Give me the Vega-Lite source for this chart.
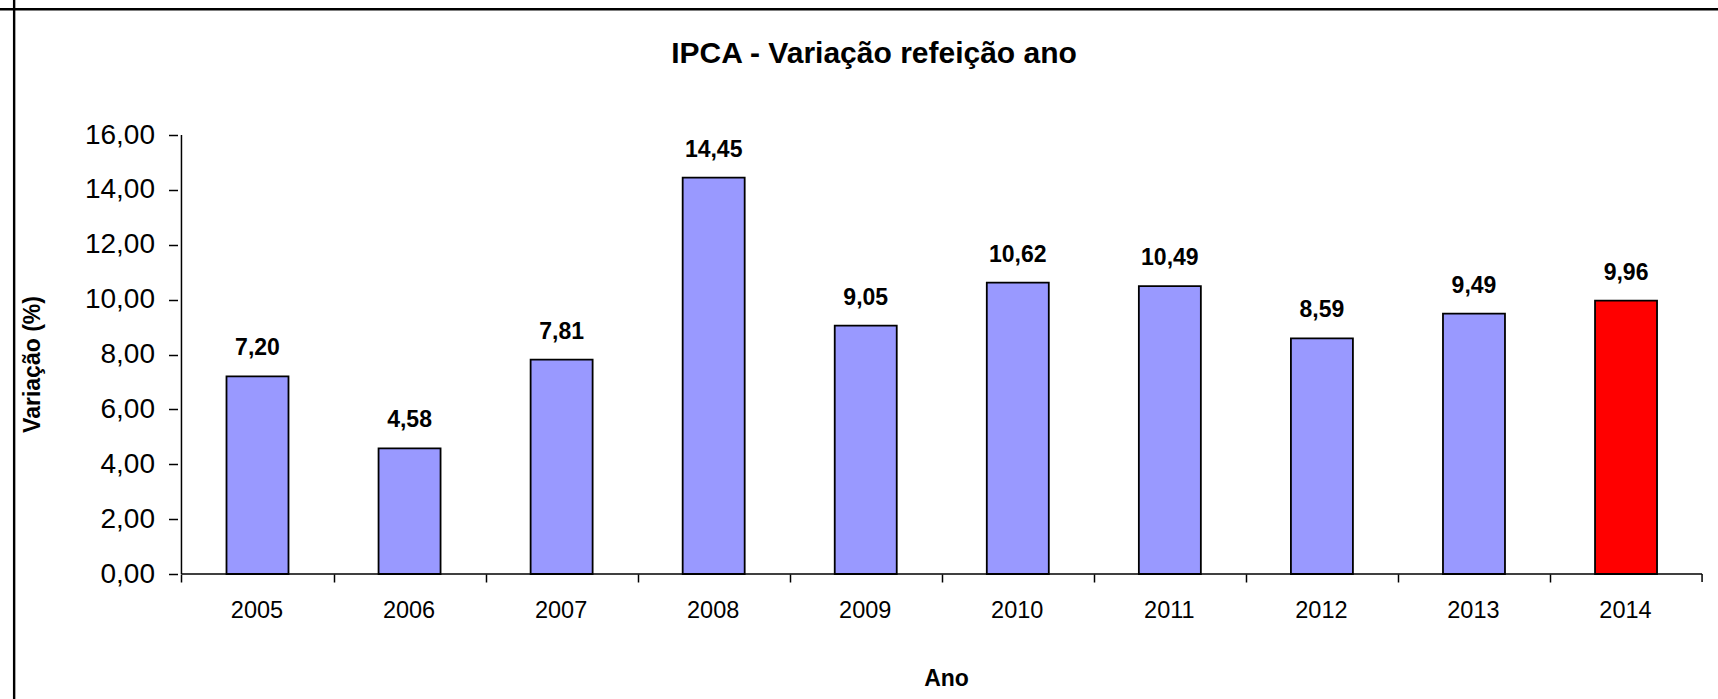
{
  "$schema": "https://vega.github.io/schema/vega-lite/v6.json",
  "width": 1718,
  "height": 699,
  "autosize": {"type": "none"},
  "padding": 0,
  "background": "white",
  "title": {
    "text": "IPCA - Variação refeição ano",
    "fontSize": 30,
    "fontWeight": "bold",
    "font": "Liberation Sans",
    "color": "black",
    "anchor": "middle",
    "frame": "group",
    "baseline": "alphabetic",
    "offset": -90,
    "dx": 15,
    "dy": 4
  },
  "data": {
    "values": [
      {"ano": 2005, "valor": 7.20},
      {"ano": 2006, "valor": 4.58},
      {"ano": 2007, "valor": 7.81},
      {"ano": 2008, "valor": 14.45},
      {"ano": 2009, "valor": 9.05},
      {"ano": 2010, "valor": 10.62},
      {"ano": 2011, "valor": 10.49},
      {"ano": 2012, "valor": 8.59},
      {"ano": 2013, "valor": 9.49},
      {"ano": 2014, "valor": 9.96}
    ]
  },
  "config": {
    "view": {"stroke": null},
    "font": "Liberation Sans",
    "locale": {"number": {"decimal": ",", "thousands": ".", "grouping": [3], "currency": ["R$", ""]}}
  },
  "layer": [
    {
      "mark": {"type": "bar", "size": 62, "stroke": "black", "strokeWidth": 1.8},
      "encoding": {
        "x": {
          "field": "ano",
          "type": "quantitative",
          "scale": {"domain": [2003.33949, 2014.57192], "nice": false, "zero": false},
          "axis": {
            "title": "Ano",
            "titleFontSize": 23,
            "titleFontWeight": "bold",
            "titleColor": "black",
            "titleX": 946,
            "titleY": 111,
            "titleBaseline": "alphabetic",
            "titleAnchor": null,
            "offset": -125,
            "domain": false,
            "grid": false,
            "values": [2004.5, 2005.5, 2006.5, 2007.5, 2008.5, 2009.5, 2010.5, 2011.5, 2012.5, 2013.5],
            "labelExpr": "format(datum.value + 0.5, 'd')",
            "labelOffset": 75,
            "labelFlush": false,
            "labelBound": false,
            "labelOverlap": false,
            "labelFontSize": 23.5,
            "labelColor": "black",
            "labelPadding": 16,
            "tickSize": 8,
            "tickColor": "black",
            "tickWidth": 1.5
          }
        },
        "y": {
          "field": "valor",
          "type": "quantitative",
          "scale": {"domain": [-4.5558, 20.9203], "nice": false, "zero": false},
          "axis": {
            "title": "Variação (%)",
            "titleFontSize": 23,
            "titleFontWeight": "bold",
            "titleColor": "black",
            "titleX": -138,
            "titleY": 364,
            "titleBaseline": "alphabetic",
            "titleAngle": -90,
            "titleAnchor": null,
            "offset": -177.5,
            "domain": false,
            "grid": false,
            "values": [0, 2, 4, 6, 8, 10, 12, 14, 16],
            "format": ".2f",
            "labelFontSize": 28,
            "labelColor": "black",
            "labelPadding": 14,
            "labelOverlap": false,
            "labelBound": false,
            "labelFlush": false,
            "tickSize": 9,
            "tickColor": "black",
            "tickWidth": 1.5
          }
        },
        "y2": {"datum": 0},
        "color": {
          "condition": {"test": "datum.ano == 2014", "value": "#FF0000"},
          "value": "#9999FF"
        }
      }
    },
    {
      "mark": {"type": "text", "dy": -21, "baseline": "alphabetic", "align": "center", "fontSize": 23, "fontWeight": "bold", "color": "black"},
      "encoding": {
        "x": {"field": "ano", "type": "quantitative"},
        "y": {"field": "valor", "type": "quantitative"},
        "text": {"field": "valor", "type": "quantitative", "format": ".2f"}
      }
    },
    {
      "data": {"values": [{}]},
      "mark": {"type": "rule", "color": "black", "strokeWidth": 1.5},
      "encoding": {
        "x": {"datum": 2004.5, "type": "quantitative"},
        "y": {"datum": 0, "type": "quantitative"},
        "y2": {"datum": 16}
      }
    },
    {
      "data": {"values": [{}]},
      "mark": {"type": "rule", "color": "black", "strokeWidth": 1.5},
      "encoding": {
        "y": {"datum": 0, "type": "quantitative"},
        "x": {"datum": 2004.5, "type": "quantitative"},
        "x2": {"datum": 2014.5}
      }
    },
    {
      "data": {"values": [{}]},
      "mark": {"type": "rule", "color": "black", "strokeWidth": 1.5},
      "encoding": {
        "x": {"datum": 2014.5, "type": "quantitative"},
        "y": {"datum": 0, "type": "quantitative"},
        "y2": {"datum": -0.29}
      }
    },
    {
      "data": {"values": [{}]},
      "mark": {"type": "rule", "color": "black", "strokeWidth": 2.4},
      "encoding": {
        "x": {"datum": 2003.3996, "type": "quantitative"}
      }
    },
    {
      "data": {"values": [{}]},
      "mark": {"type": "rule", "color": "black", "strokeWidth": 2.4},
      "encoding": {
        "y": {"datum": 20.585, "type": "quantitative"}
      }
    }
  ]
}
